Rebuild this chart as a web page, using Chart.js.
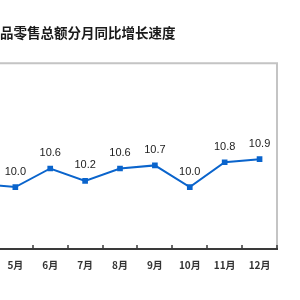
<!DOCTYPE html>
<html>
<head>
<meta charset="utf-8">
<script src="https://cdn.jsdelivr.net/npm/chart.js@4.4.0/dist/chart.umd.min.js"></script>
<style>
html, body { margin: 0; padding: 0; width: 300px; height: 300px; overflow: hidden; background: #fff; }
#chart { position: absolute; left: -54px; top: 0; }
</style>
</head>
<body>
<canvas id="chart" width="340" height="300"></canvas>
<script>
// 社会消费品零售总额分月同比增长速度 (%), the picture is cropped on the left
const titleText = '社会消费品零售总额分月同比增长速度';
const months = ['4月', '5月', '6月', '7月', '8月', '9月', '10月', '11月', '12月'];
const growth = [10.1, 10.0, 10.6, 10.2, 10.6, 10.7, 10.0, 10.8, 10.9];
const yMin = 8;
const yMax = 14;

const lineBlue = '#0a64cc';

// frame: grey top/right border, dark x axis with small inward ticks
const framePlugin = {
  id: 'frame',
  beforeDatasetsDraw(chart) {
    const { ctx, chartArea: a } = chart;
    const xs = chart.scales.x;
    ctx.save();
    ctx.strokeStyle = '#c4c4c4';
    ctx.lineWidth = 2;
    ctx.beginPath();
    ctx.moveTo(a.left, a.top);
    ctx.lineTo(a.right, a.top);
    ctx.lineTo(a.right, a.bottom);
    ctx.stroke();

    ctx.strokeStyle = '#3a3a3a';
    ctx.lineWidth = 2;
    ctx.beginPath();
    ctx.moveTo(a.left, a.bottom);
    ctx.lineTo(a.right + 1, a.bottom);
    ctx.stroke();

    const half = (xs.getPixelForValue(1) - xs.getPixelForValue(0)) / 2;
    ctx.lineWidth = 1.5;
    ctx.beginPath();
    for (let i = 0; i <= months.length; i++) {
      const x = Math.round(xs.getPixelForValue(i) - half);
      ctx.moveTo(x, a.bottom - 4);
      ctx.lineTo(x, a.bottom);
    }
    ctx.stroke();
    ctx.restore();
  }
};

// value labels above the points
const valueLabels = {
  id: 'valueLabels',
  afterDatasetsDraw(chart) {
    const { ctx } = chart;
    const meta = chart.getDatasetMeta(0);
    ctx.save();
    ctx.font = '11px "Liberation Sans", Arial, sans-serif';
    ctx.fillStyle = '#222';
    ctx.textAlign = 'center';
    ctx.textBaseline = 'middle';
    meta.data.forEach((pt, i) => {
      ctx.fillText(growth[i].toFixed(1), pt.x, pt.y - 15.5);
    });
    ctx.restore();
  }
};

new Chart(document.getElementById('chart'), {
  type: 'line',
  data: {
    labels: months,
    datasets: [{
      data: growth,
      borderColor: lineBlue,
      backgroundColor: lineBlue,
      borderWidth: 2,
      tension: 0,
      pointStyle: 'rect',
      pointRadius: 4,
      pointBorderWidth: 0,
      pointBackgroundColor: lineBlue
    }]
  },
  options: {
    responsive: false,
    animation: false,
    layout: { padding: { left: 0, right: 9, top: 0, bottom: 0 } },
    plugins: {
      legend: { display: false },
      tooltip: { enabled: false },
      title: {
        display: true,
        text: titleText,
        align: 'start',
        color: '#1a1a1a',
        font: { family: '"Noto Sans CJK SC", sans-serif', size: 13.5, weight: 'bold', lineHeight: 1.2 },
        padding: { top: 25, bottom: 22 }
      }
    },
    scales: {
      x: {
        offset: true,
        grid: { display: false, drawTicks: false },
        border: { display: false },
        ticks: {
          color: '#333',
          padding: 10,
          maxRotation: 0,
          autoSkip: false,
          font: { family: '"Noto Sans CJK SC", sans-serif', size: 10, weight: 'bold' }
        },
        afterFit(s) { s.height = 51; }
      },
      y: {
        min: yMin,
        max: yMax,
        grid: { display: false },
        border: { display: false },
        ticks: { display: false },
        afterFit(s) { s.width = 17; }
      }
    }
  },
  plugins: [framePlugin, valueLabels]
});
</script>
</body>
</html>
